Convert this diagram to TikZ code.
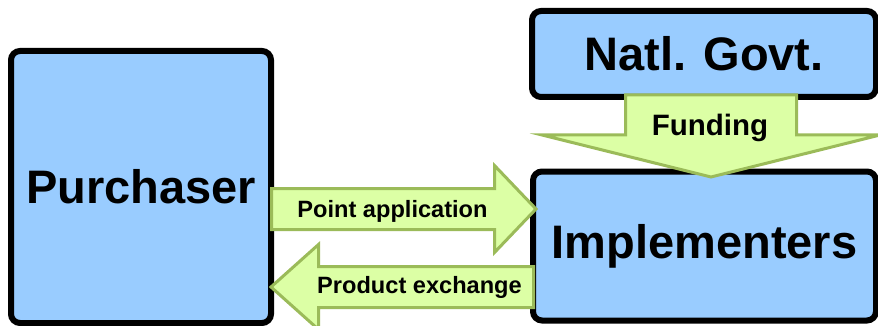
\documentclass[tikz,border=0pt]{standalone}
\usepackage{fontspec}
\setmainfont{Liberation Sans}
\definecolor{boxblue}{RGB}{153,204,255}
\definecolor{arrowfill}{RGB}{220,255,165}
\definecolor{arrowline}{RGB}{155,187,89}
\begin{document}
\begin{tikzpicture}[x=1pt,y=-1pt,
  box/.style={draw=black,line width=6pt,fill=boxblue,rounded corners=9pt,
    inner sep=0pt,font=\fontsize{47}{50}\selectfont\bfseries},
  blockarrow/.style={draw=arrowline,line width=3pt,fill=arrowfill,line join=miter},
  arrowlabel/.style={anchor=base,inner sep=0pt,font=\fontsize{23.6}{26}\selectfont\bfseries}]
\useasboundingbox (0,0) rectangle (878,326);
\begin{scope}
\clip (0,0) rectangle (878,326);
% boxes
\node[box,minimum width=260pt,minimum height=272pt] (pur) at (141,187) {Purchaser};
\node[box,minimum width=344pt,minimum height=86pt] (gov) at (704,54) {Natl. Govt.};
\node[box,minimum width=343pt,minimum height=149pt] (imp) at (704.5,246) {Implementers};
% funding arrow
\draw[blockarrow] (625.5,95) -- (796.5,95) -- (796.5,135) -- (880,135) -- (711,177)
  -- (542,135) -- (625.5,135) -- cycle;
% point application arrow
\draw[blockarrow] (271.5,188.5) -- (494.5,188.5) -- (494.5,165.5) -- (536,209)
  -- (494.5,252.5) -- (494.5,229.5) -- (271.5,229.5) -- cycle;
% product exchange arrow
\draw[blockarrow] (533.5,266.5) -- (318.5,266.5) -- (318.5,244.5) -- (271,287)
  -- (318.5,329.5) -- (318.5,307.5) -- (533.5,307.5) -- cycle;
\end{scope}
% labels
\node[arrowlabel,font=\fontsize{29.5}{31}\selectfont\bfseries] (fund) at (710,135.5) {Funding};
\node[arrowlabel] (pa) at (392.5,217) {Point application};
\node[arrowlabel] (pe) at (419.5,293.5) {Product exchange};
\end{tikzpicture}
\end{document}
